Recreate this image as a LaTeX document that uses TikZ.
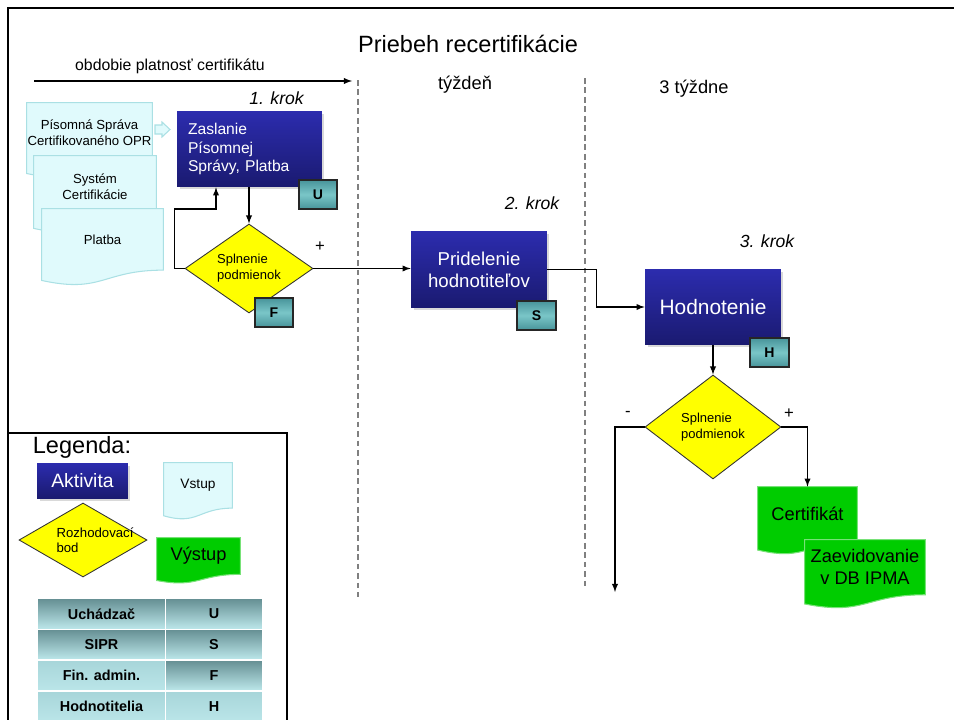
\documentclass[tikz,border=0pt]{standalone}
\usepackage{fontspec}
\setmainfont{Liberation Sans}
\usetikzlibrary{shapes.geometric,calc,shadows,backgrounds}

\definecolor{aktivtop}{RGB}{44,44,174}
\definecolor{aktivbot}{RGB}{26,26,112}
\definecolor{rozhodfill}{RGB}{255,255,0}
\definecolor{vstupfill}{RGB}{224,250,252}
\definecolor{vstupline}{RGB}{170,224,228}
\definecolor{vystupfill}{RGB}{0,204,0}
\definecolor{vystupline}{RGB}{120,226,120}
\definecolor{rolatmava}{RGB}{72,148,154}
\definecolor{rolasvetla}{RGB}{122,198,200}
\definecolor{celltop}{RGB}{104,146,150}
\definecolor{celllight}{RGB}{168,214,218}
\definecolor{cellbot}{RGB}{186,229,232}

% obrys dokumentu (vstup/vystup) okolo uzla
\newcommand{\docoutline}[2]{%
  \begin{scope}[on background layer]
    \draw[#2] (#1.north west) -- (#1.north east) -- (#1.south east)
      .. controls (#1.south) and ($(#1.north)!1.385!(#1.south)$)
      .. ($(#1.north west)!1.1675!(#1.south west)$) -- cycle;
  \end{scope}}

\begin{document}
\begin{tikzpicture}[x=0.02cm, y=-0.02cm,
    every node/.style={inner sep=0pt},
    aktivita/.style={rectangle, top color=aktivtop, bottom color=aktivbot, text=white,
      drop shadow={shadow xshift=0.05cm, shadow yshift=-0.05cm, opacity=0.3}},
    rozhod/.style={diamond, draw=black!80, line width=0.5pt, fill=rozhodfill, shape aspect=1.4,
      align=left, font=\fontsize{7.4}{9}\selectfont},
    vstup/.style={align=center, font=\fontsize{7.5}{9.3}\selectfont},
    vystup/.style={align=center, font=\fontsize{10.4}{12.4}\selectfont},
    vstupdoc/.style={fill=vstupfill, draw=vstupline, line width=0.6pt},
    vystupdoc/.style={fill=vystupfill, draw=vystupline, line width=0.6pt},
    rola/.style={rectangle, draw=black!85, line width=0.9pt, top color=rolatmava,
      bottom color=rolatmava, middle color=rolasvetla,
      minimum width=0.77cm, minimum height=0.58cm, font=\bfseries\fontsize{8}{9}\selectfont},
    krok/.style={font=\itshape\fontsize{10}{12}\selectfont},
    spoj/.style={-latex, line width=0.6pt},
    hranica/.style={gray, line width=0.6pt, dash pattern=on 3.2pt off 2.2pt},
    cell/.style={rectangle, minimum height=0.57cm, bottom color=cellbot,
      font=\bfseries\fontsize{8.2}{9}\selectfont}]

  \useasboundingbox (0,0) rectangle (954,720);

  % ramik
  \draw[line width=1.7pt] (954,8) -- (8,8) -- (8,722);

  % nadpisy
  \node[font=\fontsize{13.4}{16}\selectfont] (nadpis) at (468,44) {Priebeh recertifikácie};
  \node[font=\fontsize{9}{11}\selectfont] (obdobie) at (170,66) {obdobie platnosť certifikátu};
  \node[font=\fontsize{10.4}{12}\selectfont] (tyzden) at (465,85) {týždeň};
  \node[font=\fontsize{10.4}{12}\selectfont] (tyzdne) at (694,89) {3 týždne};

  \coordinate (os0) at (34,81);
  \coordinate (os1) at (352,81);
  \draw[spoj] (os0) -- (os1);

  % hranice obdobi
  \coordinate (h1a) at (358,80);
  \coordinate (h1b) at (358,597);
  \coordinate (h2a) at (585,78);
  \coordinate (h2b) at (585,588);
  \draw[hranica] (h1a) -- (h1b);
  \draw[hranica] (h2a) -- (h2b);

  % vstupy
  \node[vstup, minimum width=2.5cm, minimum height=1.2cm] (pis) at (89.5,133)
    {Písomná Správa\\Certifikovaného OPR};
  \docoutline{pis}{vstupdoc}
  \node[vstup, minimum width=2.44cm, minimum height=1.232cm] (sys) at (95,186.8)
    {Systém\\Certifikácie};
  \docoutline{sys}{vstupdoc}
  \node[vstup, minimum width=2.42cm, minimum height=1.216cm] (plat) at (102.5,239.4) {Platba};
  \docoutline{plat}{vstupdoc}
  \draw[vstupdoc] (155,125) -- (162,125) -- (162,122) -- (170,129.5) -- (162,137)
    -- (162,134) -- (155,134) -- cycle;

  % 1. krok
  \node[krok] (krok1) at (276.5,98) {1. krok};
  \node[aktivita, minimum width=2.9cm, minimum height=1.52cm, inner xsep=0.22cm,
    text width=2.46cm, align=left, font=\fontsize{8.9}{10.5}\selectfont] (zas) at (249.5,149)
    {Zaslanie\\Písomnej\\Správy, Platba};
  \node[rola] (bu) at (318,194.5) {U};
  \node[rozhod, minimum width=2.56cm, minimum height=1.78cm] (dia1) at (249,268.5)
    {Splnenie\\podmienok};
  \node[rola] (bf) at (274,312.5) {F};
  \node[font=\fontsize{9.5}{10}\selectfont] (plus1) at (320,247) {+};

  \draw[spoj] (dia1.north |- zas.south) -- (dia1.north);
  \coordinate (spat) at (216,209);
  \draw[spoj] (dia1.west) -- ++(-10,0) |- (spat) -- (spat |- zas.south);

  % 2. krok
  \node[krok] (krok2) at (532,203) {2. krok};
  \node[aktivita, minimum width=2.72cm, minimum height=1.54cm, align=center,
    font=\fontsize{10.6}{12.5}\selectfont] (prid) at (479,269.5) {Pridelenie\\hodnotiteľov};
  \node[rola] (bs) at (536.5,315.5) {S};
  \draw[spoj] (dia1.east) -- (dia1.east -| prid.west);

  % 3. krok
  \node[krok] (krok3) at (767,241) {3. krok};
  \node[aktivita, minimum width=2.72cm, minimum height=1.52cm,
    font=\fontsize{11.9}{14}\selectfont] (hod) at (713,307) {Hodnotenie};
  \node[rola] (bh) at (769.5,352.5) {H};
  \draw[spoj] (prid.east) -- ++(49,0) |- (hod.west);

  \node[rozhod, minimum width=2.72cm, minimum height=2.08cm] (dia2) at (713,427)
    {Splnenie\\podmienok};
  \draw[spoj] (hod.south) -- (dia2.north);
  \node[font=\fontsize{9.5}{10}\selectfont] (minus2) at (628,414) {-};
  \node[font=\fontsize{9.5}{10}\selectfont] (plus2) at (789,414) {+};
  \coordinate (koniec) at (615,592);
  \draw[spoj] (dia2.west) -| (koniec);

  % vystupy
  \node[vystup, minimum width=1.98cm, minimum height=1.072cm] (cert) at (807.5,513.8) {Certifikát};
  \docoutline{cert}{vystupdoc}
  \node[vystup, minimum width=2.4cm, minimum height=1.088cm] (zaev) at (865,567.2)
    {Zaevidovanie\\v DB IPMA};
  \docoutline{zaev}{vystupdoc}
  \draw[spoj] (dia2.east) -| (cert.north);

  % legenda
  \draw[line width=1.1pt] (8,433) rectangle (287,730);
  \node[font=\fontsize{13.4}{16}\selectfont] (legenda) at (82,447) {Legenda:};
  \node[aktivita, minimum width=1.82cm, minimum height=0.7cm,
    font=\fontsize{11}{13}\selectfont] (akt) at (82.5,480.5) {Aktivita};
  \node[vstup, font=\fontsize{7.8}{9}\selectfont, minimum width=1.36cm, minimum height=0.896cm]
    (vst) at (198,485.4) {Vstup};
  \docoutline{vst}{vstupdoc}
  \node[rozhod, minimum width=2.56cm, minimum height=1.48cm,
    label={[xshift=0.24cm, align=left, font=\fontsize{7.5}{8.5}\selectfont]center:{Rozhodovací\\bod}}]
    (roz) at (83,540) {};
  \node[vystup, minimum width=1.66cm, minimum height=0.72cm] (vys) at (198.5,556) {Výstup};
  \docoutline{vys}{vystupdoc}

  % tabulka roli
  \foreach \ry/\meno/\skr/\ta/\tb [count=\i] in {614/Uchádzač/U/celltop/celltop,
      644.5/SIPR/S/celltop/celltop, 675.5/Fin. admin./F/celllight/celltop,
      706.5/Hodnotitelia/H/celllight/celllight} {
    \node[cell, top color=\ta, minimum width=2.54cm] (rola\i) at (101.5,\ry) {\meno};
    \node[cell, top color=\tb, minimum width=1.92cm] (skr\i) at (214,\ry) {\skr};
  }
\end{tikzpicture}
\end{document}
